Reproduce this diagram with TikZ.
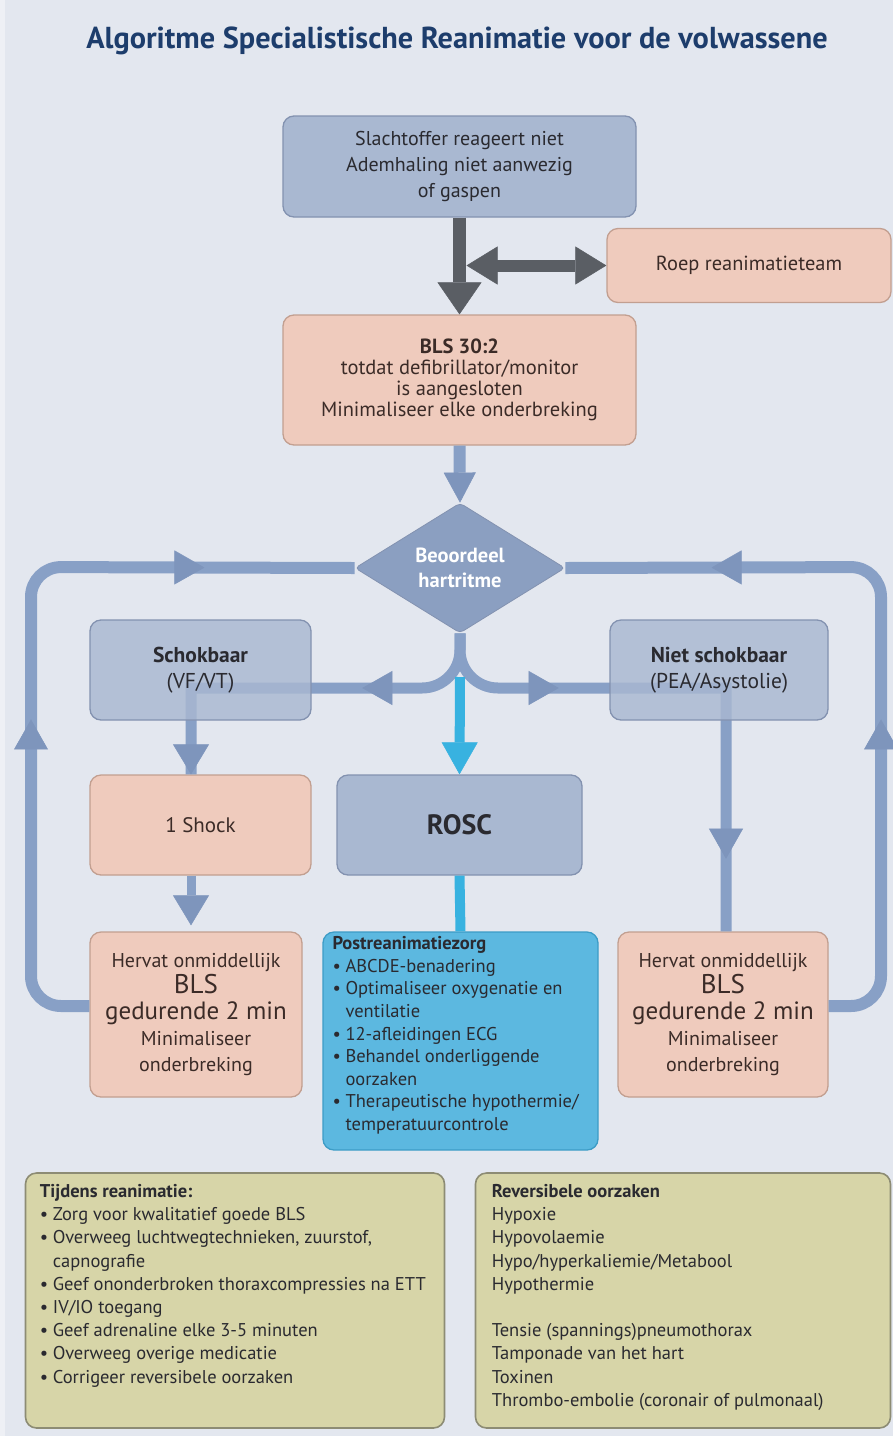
\documentclass[tikz,border=0pt]{standalone}
\usepackage{fontspec}
\setmainfont{PT Sans}
\usetikzlibrary{shapes.geometric,arrows.meta,decorations.markings,calc}

\definecolor{cBg}{HTML}{E3E7EF}
\definecolor{cEdgeStrip}{HTML}{EEF0F5}
\definecolor{cBlue}{HTML}{A9B8D1}
\definecolor{cBlueEdge}{HTML}{8392B0}
\definecolor{cSal}{HTML}{EFCBBD}
\definecolor{cSalEdge}{HTML}{C29F90}
\definecolor{cDia}{HTML}{8B9FC1}
\definecolor{cLoop}{HTML}{88A0C6}
\definecolor{cTip}{HTML}{7E95BC}
\definecolor{cGrey}{HTML}{5A5E64}
\definecolor{cCyan}{HTML}{38B2E0}
\definecolor{cPost}{HTML}{5CB8E0}
\definecolor{cPostEdge}{HTML}{3D9CC6}
\definecolor{cBeige}{HTML}{D7D5A8}
\definecolor{cBeigeEdge}{HTML}{8D8C74}
\definecolor{cTitle}{HTML}{1D3D6C}
\definecolor{cInk}{HTML}{2A2A30}
\definecolor{cSalInk}{HTML}{3B2B27}

\newcommand{\bulletmark}{\makebox[13pt][l]{\textbullet}}
\newcommand{\bulletgap}{\hspace*{13pt}}

\tikzset{
  panel/.style={rounded corners=11pt, line width=1.3pt, align=center, inner sep=0pt},
  bluebox/.style={panel, draw=cBlueEdge, fill=cBlue, text=cInk},
  glassbox/.style={panel, draw=cBlueEdge, fill=cBlue, fill opacity=0.82, text opacity=1, text=cInk},
  salmonbox/.style={panel, draw=cSalEdge, fill=cSal, text=cSalInk},
  postbox/.style={panel, draw=cPostEdge, fill=cPost, text=cInk},
  notebox/.style={panel, draw=cBeigeEdge, fill=cBeige, line width=1.6pt},
  notetext/.style={anchor=north west, align=left, inner sep=0pt, text=cInk},
  loopline/.style={draw=cLoop, line width=12pt},
  forkline/.style={draw=cLoop, line width=11pt},
  thinline/.style={draw=cLoop, line width=9pt},
  tipat/.style 2 args={postaction={decorate, decoration={markings,
      mark=at position #1 with {\arrow{Triangle[length=30pt 0 1, width=34pt 0 1, line width=0.5pt, color=#2]}}}}},
}

\begin{document}
\begin{tikzpicture}[x=1pt, y=-1pt]
  % page background
  \fill[cBg] (0,0) rectangle (893,1436);
  \fill[cEdgeStrip] (0,0) rectangle (5,1436);
  \useasboundingbox (0,0) rectangle (893,1436);

  % title
  \node[text=cTitle, font=\fontsize{30.3}{34}\selectfont\bfseries, inner sep=0pt] (title) at (457,41)
    {Algoritme Specialistische Reanimatie voor de volwassene};

  % column guides for the vertical connectors
  \coordinate (lx) at (191,0);
  \coordinate (rx) at (726,0);

  % ---- boxes that sit above the loop ----
  \node[bluebox, minimum width=353, minimum height=101, font=\fontsize{20}{26}\selectfont] (start) at (459.5,166.5)
    {Slachtoffer reageert niet\\Ademhaling niet aanwezig\\of gaspen};
  \node[salmonbox, minimum width=284, minimum height=74, font=\fontsize{20.4}{24}\selectfont] (team) at (749,265.5)
    {Roep reanimatieteam};
  \node[salmonbox, minimum width=353, minimum height=130, font=\fontsize{20.5}{21.2}\selectfont] (bls) at (459.5,380)
    {\textbf{BLS 30:2}\\totdat defibrillator/monitor\\is aangesloten\\Minimaliseer elke onderbreking};

  \node[diamond, draw=cBlueEdge, line width=0.8pt, fill=cDia, minimum width=210, minimum height=130, inner sep=0pt,
        rounded corners=4pt, align=center, text=white, font=\fontsize{20.5}{25}\selectfont\bfseries] (rhythm) at (460,568)
    {Beoordeel\\hartritme};

  \node[salmonbox, minimum width=221, minimum height=100, font=\fontsize{21}{24}\selectfont] (shock) at (200.5,825)
    {1 Shock};
  \node[bluebox, minimum width=245, minimum height=100, font=\fontsize{28}{34}\selectfont\bfseries] (rosc) at (459.5,825)
    {ROSC};

  \node[salmonbox, minimum width=212, minimum height=165, font=\fontsize{20}{26}\selectfont] (resumeL) at (196,1014.5)
    {Hervat onmiddellijk\\{\fontsize{27}{26}\selectfont BLS}\\{\fontsize{25}{26}\selectfont gedurende 2 min}\\Minimaliseer\\onderbreking};
  \node[salmonbox, minimum width=210, minimum height=165, font=\fontsize{20}{26}\selectfont] (resumeR) at (723,1014.5)
    {Hervat onmiddellijk\\{\fontsize{27}{26}\selectfont BLS}\\{\fontsize{25}{26}\selectfont gedurende 2 min}\\Minimaliseer\\onderbreking};

  % ---- loops back to rhythm check ----
  \draw[loopline, rounded corners=30pt, tipat={332pt}{cTip}, tipat={645pt}{cTip}]
    (resumeL.west |- 0,1006) -- (31,1006) -- (31,567) -- (rhythm.west);
  \draw[loopline, rounded corners=30pt, tipat={326pt}{cTip}, tipat={635pt}{cTip}]
    (resumeR.east |- 0,1006) -- (881,1006) -- (881,567) -- (rhythm.east);

  % ---- fork below the rhythm check ----
  \draw[forkline, tipat={136pt}{cTip}]
    (rhythm.south) [rounded corners=38pt] -- (460,688) [sharp corners] -- (lx |- 0,688) -- (lx |- shock.north);
  \draw[forkline, tipat={137pt}{cTip}, tipat={475pt}{cTip}]
    (rhythm.south) [rounded corners=38pt] -- (460,688) [sharp corners] -- (rx |- 0,688) -- (rx |- resumeR.north);
  \draw[thinline, -{Triangle[length=30pt 0 1, width=36pt 0 1, line width=0.5pt, color=cTip]}]
    (lx |- 0,720) -- (lx |- shock.north);
  \draw[thinline, shorten >=6pt, -{Triangle[length=30pt 0 1, width=36pt 0 1, line width=0.5pt, color=cTip]}]
    (lx |- shock.south) -- (lx |- resumeL.north);

  % rhythm groups, translucent over the fork lines
  \node[glassbox, minimum width=221, minimum height=100, font=\fontsize{21.5}{26}\selectfont] (shockable) at (200.5,670)
    {\textbf{Schokbaar}\\(VF/VT)};
  \node[glassbox, minimum width=218, minimum height=100, font=\fontsize{21.5}{26}\selectfont] (nonshock) at (719,670)
    {\textbf{Niet schokbaar}\\(PEA/Asystolie)};

  % ---- main downward connectors ----
  \draw[draw=cGrey, line width=13pt, -{Triangle[length=32pt 0 1, width=44pt 0 1, line width=0.5pt, color=cGrey]}]
    (start.south) -- (bls.north);
  \coordinate (junction) at (start.south |- team.west);
  \draw[draw=cGrey, line width=12pt,
        {Triangle[length=31pt 0 1, width=38pt 0 1, line width=0.5pt, color=cGrey]}-{Triangle[length=31pt 0 1, width=38pt 0 1, line width=0.5pt, color=cGrey]}]
    ($(junction)+(7,0)$) -- (team.west);
  \draw[draw=cLoop, line width=12pt, -{Triangle[length=30pt 0 1, width=32pt 0 1, line width=0.5pt, color=cTip]}]
    (bls.south) -- (rhythm.north);

  \coordinate (split) at (460,677);
  \draw[draw=cCyan, line width=10pt, -{Triangle[length=32pt 0 1, width=36pt 0 1, line width=0.5pt, color=cCyan]}]
    (split) -- (rosc.north);

  % ---- post-resuscitation care ----
  \node[postbox, minimum width=275, minimum height=218] (post) at (460.5,1041) {};
  \draw[draw=cCyan, line width=10pt] (rosc.south) -- (post.north);
  \node[notetext, font=\fontsize{18.5}{22.6}\selectfont] (posttext) at ($(post.north west)+(10,5)$)
    {\textbf{Postreanimatiezorg}\\
     \bulletmark ABCDE-benadering\\
     \bulletmark Optimaliseer oxygenatie en\\
     \bulletgap ventilatie\\
     \bulletmark 12-afleidingen ECG\\
     \bulletmark Behandel onderliggende\\
     \bulletgap oorzaken\\
     \bulletmark Therapeutische hypothermie/\\
     \bulletgap temperatuurcontrole};

  % ---- notes ----
  \node[notebox, minimum width=419, minimum height=255] (during) at (235,1300.5) {};
  \node[notetext, font=\fontsize{18.5}{23.2}\selectfont] (duringtext) at ($(during.north west)+(15,12)$)
    {\textbf{Tijdens reanimatie:}\\
     \bulletmark Zorg voor kwalitatief goede BLS\\
     \bulletmark Overweeg luchtwegtechnieken, zuurstof,\\
     \bulletgap capnografie\\
     \bulletmark Geef ononderbroken thoraxcompressies na ETT\\
     \bulletmark IV/IO toegang\\
     \bulletmark Geef adrenaline elke 3-5 minuten\\
     \bulletmark Overweeg overige medicatie\\
     \bulletmark Corrigeer reversibele oorzaken};

  \node[notebox, minimum width=415, minimum height=255] (causes) at (683,1300.5) {};
  \node[notetext, font=\fontsize{18.5}{23.2}\selectfont] (causestext) at ($(causes.north west)+(17,12)$)
    {\textbf{Reversibele oorzaken}\\
     Hypoxie\\
     Hypovolaemie\\
     Hypo/hyperkaliemie/Metabool\\
     Hypothermie\\
     \mbox{}\\
     Tensie (spannings)pneumothorax\\
     Tamponade van het hart\\
     Toxinen\\
     Thrombo-embolie (coronair of pulmonaal)};
\end{tikzpicture}
\end{document}
